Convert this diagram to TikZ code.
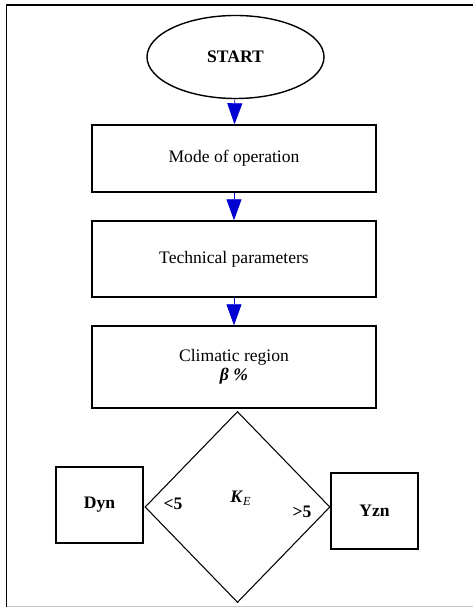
\documentclass[tikz,border=0pt]{standalone}
\usepackage{fontspec}
\setmainfont{Liberation Serif}
\usepackage{xcolor}
\definecolor{flowblue}{RGB}{0,0,210}
\definecolor{framegray}{RGB}{200,200,200}
\usetikzlibrary{arrows.meta,positioning,shapes.geometric}

\begin{document}
\begin{tikzpicture}[
  procbox/.style={
    rectangle, draw=black, line width=0.8pt,
    minimum width=5.68cm, minimum height=1.4cm,
    align=center, font=\fontsize{10}{12}\selectfont
  },
  outbox/.style={
    rectangle, draw=black, line width=0.8pt,
    minimum width=1.74cm, minimum height=1.52cm,
    font=\fontsize{10}{12}\selectfont\bfseries
  },
  flow/.style={-{Triangle[width=0.3cm,length=0.42cm]}, line width=0.4pt, draw=flowblue, fill=flowblue}
]
\useasboundingbox (0,0) rectangle (9.46,-12.16);

% frame
\draw[line width=1.1pt] (0.13,-12.14) -- (0.13,-0.1) -- (9.46,-0.1);
\draw[framegray, line width=0.5pt] (0.13,-12.13) -- (9.46,-12.13);

\node[ellipse, draw=black, line width=0.8pt, minimum width=3.54cm, minimum height=1.66cm,
  font=\fontsize{10}{12}\selectfont\bfseries] (start) at (4.71,-1.14) {START};
\node[procbox, minimum height=1.34cm] (mode)  at (4.68,-3.17) {Mode of operation};
\node[procbox, minimum height=1.52cm] (tech)  at (4.68,-5.18) {Technical parameters};
\node[procbox, minimum height=1.64cm] (clim)  at (4.68,-7.34)
  {Climatic region\\[-1pt]\textbf{\textit{β~\%}}};

\node[diamond, draw=black, line width=0.6pt, inner sep=0pt,
  minimum width=3.7cm, minimum height=3.82cm] (ke) at (4.75,-10.14) {};
\node[font=\fontsize{10}{12}\selectfont] (kelab) at (4.82,-9.96)
  {\textbf{\textit{K}}\textsubscript{\textit{E}}};

\node[outbox] (dyn) at (1.99,-10.10) {Dyn};
\node[outbox] (yzn) at (7.49,-10.22) {Yzn};

\node[font=\fontsize{10}{12}\selectfont\bfseries] (lt) at (3.46,-10.08) {<5};
\node[font=\fontsize{10}{12}\selectfont\bfseries] (gt) at (6.04,-10.24) {>5};

\draw[flow] (start) -- (mode);
\draw[flow] (mode) -- (tech);
\draw[flow] (tech) -- (clim);
\end{tikzpicture}
\end{document}
